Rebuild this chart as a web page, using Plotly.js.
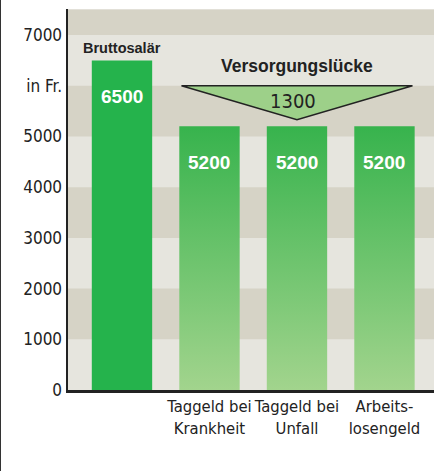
<!DOCTYPE html>
<html><head><meta charset="utf-8">
<script src="https://cdn.plot.ly/plotly-3.0.1.min.js"></script>
<style>
html,body{margin:0;padding:0;background:#fff;}
#wrap{position:relative;width:437px;height:471px;}
#edge{position:absolute;left:0;top:0;width:1px;height:471px;background:#333;}
#chart{width:437px;height:471px;}
</style></head>
<body><div id="wrap"><div id="chart"></div><div id="edge"></div></div>
<script>
// ---- data ----
const categories = ['Bruttosalär', 'Taggeld bei Krankheit', 'Taggeld bei Unfall', 'Arbeitslosengeld'];
const tickLabels = ['', 'Taggeld bei<br>Krankheit', 'Taggeld bei<br>Unfall', 'Arbeits-<br>losengeld'];
const values = [6500, 5200, 5200, 5200];
const gapLabel = 'Versorgungslücke';
const gapValue = 1300;
const yTickVals = [0, 1000, 2000, 3000, 4000, 5000, 6000, 7000];
const yTickText = ['0', '1000', '2000', '3000', '4000', '5000', 'in Fr.', '7000'];
const darkBands = [[1000, 2000], [3000, 4000], [5000, 6000], [7000, 7500]];

// ---- style ----
const narrow = '"Liberation Sans Narrow", "DejaVu Sans Condensed", "Liberation Sans", sans-serif';
const bold = '"Liberation Sans", Arial, sans-serif';
const W = 0.69;
const idx = categories.map((c, i) => i);

const traces = [];
traces.push({
  type: 'bar', x: [idx[0]], y: [values[0]], width: W,
  marker: {color: '#25b34c', line: {width: 0}}, hoverinfo: 'skip', showlegend: false
});
for (let i = 1; i < values.length; i++) {
  const x0 = idx[i] - W / 2, x1 = idx[i] + W / 2;
  traces.push({
    type: 'scatter', mode: 'lines',
    x: [x0, x0, x1, x1, x0], y: [0, values[i], values[i], 0, 0],
    fill: 'toself', line: {width: 0, color: 'rgba(0,0,0,0)'},
    fillcolor: '#6cc266',
    fillgradient: {type: 'vertical', colorscale: [[0, '#a2d48d'], [1, '#37b34d']]},
    hoverinfo: 'skip', showlegend: false
  });
}

const shapes = darkBands.map(b => ({
  type: 'rect', xref: 'paper', yref: 'y', x0: 0, x1: 1, y0: b[0], y1: b[1],
  fillcolor: '#d6d3c6', line: {width: 0}, layer: 'below'
}));
const triTop = 6000, triApex = 5330, triL = 0.68, triR = 3.32, triMid = 2;
shapes.push({
  type: 'path', xref: 'x', yref: 'y',
  path: `M ${triL},${triTop} L ${triR},${triTop} L ${triMid},${triApex} Z`,
  fillcolor: '#9dd089', line: {color: '#222', width: 1.5}, layer: 'above'
});

const annotations = [];
values.forEach((v, i) => {
  annotations.push({
    x: idx[i], y: v, xref: 'x', yref: 'y', text: '<b>' + String(v) + '</b>', showarrow: false,
    yanchor: 'middle', yshift: -36,
    font: {family: bold, size: 19, color: '#ffffff'}
  });
});
annotations.push({
  x: idx[0], y: values[0], text: '<b>' + categories[0] + '</b>', showarrow: false,
  yanchor: 'bottom', yshift: 2, font: {family: bold, size: 14.5, color: '#222'}
});
annotations.push({
  x: triMid, y: triTop, text: '<b>' + gapLabel + '</b>', showarrow: false,
  yanchor: 'bottom', yshift: 8, font: {family: bold, size: 17.5, color: '#222'}
});
annotations.push({
  x: triMid - 0.04, y: triTop, text: String(gapValue), showarrow: false,
  yanchor: 'top', yshift: -1, font: {family: narrow, size: 20, color: '#222'}
});

const layout = {
  width: 437, height: 471,
  margin: {l: 68, r: 3, t: 9, b: 81},
  paper_bgcolor: '#ffffff', plot_bgcolor: '#e6e5de',
  showlegend: false,
  xaxis: {
    range: [-0.617, 3.566], tickvals: idx, ticktext: tickLabels, tickangle: 0,
    showgrid: false, zeroline: false, showline: true, linecolor: '#222', linewidth: 2.5,
    ticks: '', tickfont: {family: narrow, size: 16.5, color: '#222'}, fixedrange: true
  },
  yaxis: {
    range: [0, 7515], tickvals: yTickVals, ticktext: yTickText,
    showgrid: false, zeroline: false, showline: true, linecolor: '#222', linewidth: 2.5,
    ticks: '', tickfont: {family: narrow, size: 17, color: '#222'}, fixedrange: true
  },
  shapes: shapes, annotations: annotations
};
Plotly.newPlot('chart', traces, layout, {displayModeBar: false, staticPlot: true});
</script></body></html>
